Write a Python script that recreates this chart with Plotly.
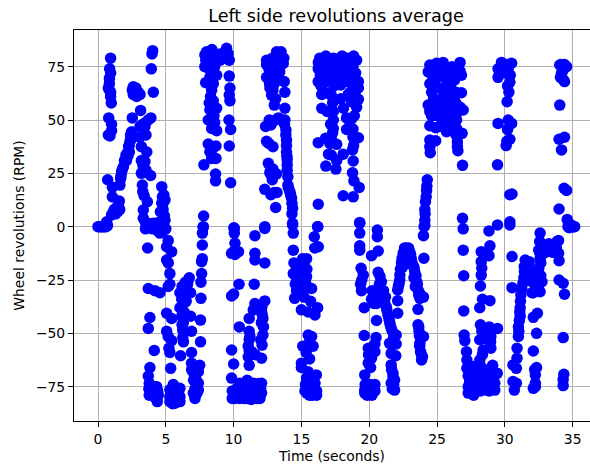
import plotly.graph_objects as go

TITLE = "Left side revolutions average"
X_LABEL = "Time (seconds)"
Y_LABEL = "Wheel revolutions (RPM)"
x_ticks = [0, 5, 10, 15, 20, 25, 30, 35]
y_ticks = [-75, -50, -25, 0, 25, 50, 75]

# (time in seconds, left wheel revolutions in RPM), burst by burst
start = [(0,0),(0.1,0),(0.2,0),(0.3,0),(0.4,0),(0.5,0),(0.6,0),(0.7,0.5)]
burst_1 = [(.93,79),(.86,74),(.93,72),(.84,69.5),(.84,67),(.76,65),(.93,63),(.84,64),(.98,58),(.93,61),(.79,51),(1.0,48),(1.0,45),(.76,43),(.88,42.5),(.71,22),(1.06,18.5),(1.06,14),(1.57,12),(1.13,7),(1.38,9),(1.0,5.5),(1.6,8),(.64,2.3),(1.5,10),(1.3,6),(1.2,8),(1.45,7)]
rise_2 = [(1.62,19.5),(1.67,22.6),(1.74,25.8),(1.87,28),(2,30.5),(2.06,33.6),(2.16,34.4),(2.31,35),(2.26,37.5),(2.36,40),(2.43,42),(2.48,44.5),(1.7,24),(1.8,27),(1.95,31),(2.1,31),(2.2,33),(2.3,38),(2.4,43),(2.45,41)]
burst_3 = [(2.6,65.6),(2.8,65),(2.97,63),(3.1,62),(2.6,62),(2.85,61),(2.73,63),(2.53,64),(2.53,51),(3.14,54.5),(3.9,51),(3.54,49),(3.1,47),(3.46,47),(3.54,43),(3.1,42),(3.2,37.5),(3.6,35),(3.2,31),(3.46,30.5),(3.2,25),(3.54,26.5),(3.88,24),(3.27,19.5),(3.3,16.4),(3.4,14.5),(3.64,11.7),(3.34,7.8),(3.34,3.9),(3.7,1.6),(4.08,1.6),(4.45,1.9),(4.94,3),(4.7,18.75),(4.86,14.8),(4.94,12.5),(4.7,11),(4.6,7),(4.8,8),(4.2,.8),(4.03,82.5),(3.98,81),(3.93,74),(4.08,63),(3.3,48),(3.7,50),(3.3,29),(3.35,27),(3.5,2),(3.9,1),(4.3,1),(4.7,2),(4.9,5),(4.75,14),(4.8,11),(4.85,5),(4.6,1)]
low_4 = [(3.83,-.3),(4.57,-3),(5.18,-6.5),(5.06,-9.4),(5.43,-11.7),(5.06,-15.6),(5.18,-17),(5.3,-22),(5.3,-27),(5.18,-28),(3.66,-10),(3.71,-29),(4.2,-30),(4.57,-31),(3.83,-42.6),(3.71,-47.7),(4.15,-58),(3.83,-66),(3.71,-70),(3.78,-73.4),(3.78,-79),(4.32,-75),(4.45,-79),(4.37,-82),(4.2,-80),(3.5,-1),(4,-1),(4.4,-2),(4.8,-2),(5,-1),(3.75,-76),(4.1,-77),(4.4,-77),(4.25,-75)]
low_5 = [(5.06,-40.6),(5.43,-43),(5.06,-49),(5.18,-51.5),(5.43,-53.4),(5.23,-57),(5.3,-59),(5.36,-66.4),(5.55,-74),(5.3,-76.5),(6.04,-75.8),(5.3,-79.7),(5.67,-81),(6.04,-82),(5.67,-82.8),(5.3,-82),(6.04,-79.7),(5.67,-78),(6.09,-60.5),(6.3,-54),(5.5,-76),(5.8,-76),(5.9,-79),(5.45,-80),(5.85,-82),(5.5,-83)]
low_6 = [(6.24,-48.4),(6.29,-45),(6.17,-42),(6.04,-38),(6.17,-34),(6.29,-31),(6.66,-25),(6.73,-24),(6.53,-28),(6.41,-33),(6.04,-31),(6.53,-30.5),(6.83,-31),(6.83,-42),(6.9,-49),(6.9,-59),(7.59,-33.6),(7.56,-43.8),(7.56,-54),(6.9,-64),(7.5,-65),(6.9,-67),(7.4,-68),(7.15,-70),(7.4,-73.4),(7.15,-76),(7.4,-76.6),(7.03,-78),(7.15,-80.5),(6.3,-36),(6.35,-40),(6.2,-46),(6.25,-52),(6.45,-26),(6.6,-27),(6.2,-28),(6.5,-35),(7,-68),(7.25,-72),(7.3,-78),(7.05,-72)]
rise_7 = [(7.64,-22),(7.59,-26),(7.64,-16.4),(7.69,-15),(7.69,-8.6),(7.7,-3),(7.76,-.3),(7.79,5),(7.76,0)]
high_8 = [(7.88,80.5),(8.25,81),(8.6,81),(9,81),(9.48,83.6),(9.6,81),(9.68,78),(8,82),(7.88,75),(8.13,77),(8.5,77),(9,78),(8.38,73.4),(8.75,71),(9.68,70.6),(7.94,67.5),(8.5,67),(8.38,64),(9.73,65),(9.68,61.7),(9.73,59),(8.2,58),(8.5,59),(8.75,55.5),(8.25,54.7),(8.13,50),(8.6,48.75),(9.66,50),(9.78,45.6),(8.38,46),(8.75,45),(8.13,38.75),(8.7,37.8),(9.68,37.8),(8.25,35),(8.7,32),(8.38,32),(7.81,29),(8.67,24.7),(8.67,21.5),(9.78,20.6),(8.1,79),(8.4,79),(8.8,79),(9.2,80),(9.4,79),(8.2,74),(8.6,75),(8.25,70),(8.3,61),(8.45,70),(8.55,52),(8.4,36),(9.3,81),(7.95,78),(8.4,83)]
low_10 = [(10.02,-.5),(10.05,-.8),(10.05,-3),(10.1,-7.8),(10,-11.7),(10.36,-11.7),(10.1,-13),(9.85,-12.5),(10.4,-27),(10,-31.6),(9.85,-32.5),(9.85,-57.8),(10,-64.4),(9.85,-71),(9.9,-77),(9.9,-80.5),(10.46,-73.4),(10.46,-76.6),(10.46,-80.5),(11,-72),(11,-76.6),(11,-80.5),(11.45,-73.4),(11.45,-77.3),(11.7,-80.5),(12.06,-73.4),(12.06,-78),(11.94,-80.5),(10.1,-80.5),(10.8,-80.5),(11.3,-81),(10.7,-74),(10.2,-76),(10.7,-78),(11.2,-74),(11.2,-78),(11.7,-74),(11.7,-77),(10.25,-79),(10.6,-80),(11.5,-80),(12,-76),(10.85,-75),(11.85,-73.5),(11.1,-74)]
low_11 = [(10.42,-47),(11.15,-43),(11.15,-49),(11.2,-51.5),(11.08,-56),(11.33,-58.6),(11.08,-61),(11.15,-65),(12.06,-61.7),(12.1,-55.5),(12.16,-50.8),(12.2,-47),(12.16,-43),(12.06,-39),(12.3,-34.8),(11.57,-36),(11.45,-39),(11.52,-27),(11.57,-12.5),(11.57,-15.6),(11.57,-4.2),(12.3,-.8),(12.3,-17),(12,-53),(12.05,-45),(12.1,-41),(11.15,-58),(11.15,-53),(11.6,-60),(11.7,-37),(12.1,-37)]
high_12 = [(12.3,0),(13.1,9),(12.3,17.5),(13,16),(13.2,16),(12.68,25),(12.56,29.7),(13.17,24.7),(12.43,40),(12.9,37.5),(12.36,47),(12.75,47.7),(12.63,50),(13.3,51),(13.78,55.5),(13,57),(12.8,61.7),(13.1,60),(12.68,65),(13.78,63),(13.73,68),(12.43,70),(12.9,69),(12.43,76),(12.43,78),(13.17,82),(13.5,82),(13.3,76.5),(13.66,76.5),(12.9,73.4),(13.4,72.6),(12.6,74),(12.7,71),(13,73),(13.2,70),(13,67),(12.9,64),(13.3,79),(13.5,78),(12.65,67),(13,79),(13.4,75),(12.75,75),(12.85,79),(13.45,80),(13.7,79),(12.7,26),(12.6,39),(12.75,15),(13.1,50),(13.6,50),(12.9,27),(12.85,22)]
fall_13 = [(13.78,50),(13.86,45.3),(13.9,40.6),(13.9,35),(13.95,31.5),(13.95,26.5),(14,23.4),(14,19.5),(14.15,16.4),(14.27,13.3),(14.35,8.6),(14.35,1.6),(13.75,48),(13.85,43),(13.9,38),(13.93,33),(13.95,29),(14.05,18),(14.2,15),(14.3,11),(14.3,6)]
low_14 = [(14.35,.8),(14.4,-3),(14.4,-11),(14.45,-17),(14.4,-22),(14.64,-24),(15.1,-15),(15.38,-15),(15.98,-10),(16.24,-9.4),(15.95,-4.7),(16.2,0),(14.64,-30),(14.5,-33.6),(14.86,-17),(15.1,-20),(14.86,-23.4),(15.38,-23.4),(14.98,-26.5),(15.1,-30),(15.75,-29),(15.68,-35),(15,-39),(15.5,-40),(16,-41.4),(16.2,-38),(15.5,-50.8),(15.75,-51.5),(15.1,-56),(15.86,-56),(15.6,-62),(15,-64),(15,-66),(16.1,-69.5),(15.5,-68),(15.38,-71),(16,-73.4),(15.5,-75),(15.26,-77),(16.12,-77),(15.6,-79),(16.12,-79),(15.5,-73.4),(14.65,-20),(14.7,-28),(14.8,-31),(15.2,-18),(15.3,-26),(15,-22),(15.2,-33),(14.55,-27),(14.9,-29),(15.25,-16),(15.4,-20),(15.7,-76),(15.9,-77),(15.4,-78),(15.8,-79),(15.7,-72),(15.85,-71),(15.3,-74),(15.6,-54),(15.35,-59)]
high_16 = [(16.24,10.5),(16.2,0),(16.8,28.4),(17,34),(16.24,39.4),(16.78,41.4),(17.1,39),(16.5,55.5),(16.9,54),(16.5,62),(17,62.5),(16.24,68),(17,68),(16.24,74),(16.35,79),(17,79),(16.6,73.4),(16.4,71),(16.6,77),(16.8,76),(16.45,66),(16.7,68),(16.85,72),(16.25,77),(16.7,63),(16.8,80)]
high_17 = [(17.35,79),(18.2,79),(19.07,78),(17.35,75),(18.1,75),(18.8,75),(17.47,72),(18.33,72),(19.2,68),(17.9,66.4),(18.8,66.4),(19.2,65),(18.8,63.3),(17.2,61.7),(17.9,60),(19.2,59.7),(19.07,56),(18.7,58.6),(18.1,55.5),(17.35,54),(18.33,51),(18.7,50.5),(17.35,50),(17.35,46),(18.33,45.6),(18.8,45.8),(19.2,41.7),(18.8,42),(17.2,41.4),(17.6,38.6),(18.77,36),(18.08,34),(17.2,33.6),(17.6,31),(17.54,27),(18.82,30.8),(18.77,25.3),(18.87,21.5),(19.26,18.4),(18.08,14.5),(18.82,14),(19.3,2),(18.7,72),(18.6,68.75),(17.6,78),(17.8,79),(18,80),(18.4,79),(18.6,78),(18.85,80),(17.7,75),(17.9,73),(18.15,71),(18.5,75),(19,72),(17.2,76),(17.2,70),(17.65,70),(18.4,68),(18.95,68),(17.4,66),(18.6,63),(18.95,62),(17.3,58),(18.9,52),(17.9,77),(18.45,62),(19.05,60),(17.15,48),(17.3,44),(18.55,47),(18.85,38)]
low_19 = [(19.3,1.6),(19.3,-3),(19.3,-9),(19.3,-11),(20.17,-13.6),(20.66,-11.4),(20.6,-1.6),(20.6,-4.7),(19.4,-19.5),(19.56,-22.7),(19.36,-27),(19.43,-30),(19.63,-38),(19.63,-51),(19.93,-57),(20.42,-58.6),(20.17,-61.7),(19.93,-64),(19.67,-69.5),(19.67,-76.6),(19.67,-78),(20.05,-74),(20.42,-74),(20.42,-77),(20.05,-78),(20.22,-30),(20.17,-34),(20.54,-36),(20.54,-44),(20.5,-52),(20.42,-55),(19.85,-75),(19.85,-79),(20.2,-79),(20.25,-76),(19.7,-74),(20.3,-33),(20.35,-36),(19.45,-25),(19.95,-60),(20.1,-66),(20.1,-57)]
fall_20 = [(20.66,-21.4),(20.8,-23.4),(20.9,-25.8),(20.9,-29.7),(21,-33),(21.13,-35),(21.25,-37.5),(21.38,-41.4),(21.5,-44.5),(21.62,-47.6),(21.99,-50.8),(21.99,-55),(21.5,-54.7),(21.62,-59.4),(21.96,-60.5),(21.62,-64.8),(21.75,-68.75),(21.87,-71.9),(21.62,-73.4),(21.87,-76.6),(21.75,-70.3),(22.1,-40.6),(20.75,-27),(20.85,-32),(21.05,-30),(21.2,-33),(21.3,-39),(21.45,-43),(21.55,-46),(21.7,-49),(21.8,-52),(21.7,-55),(21.65,-67),(21.7,-76),(21.8,-74)]
peak_22 = [(22.1,-29.7),(22.2,-26.6),(22.26,-22.7),(22.38,-17),(22.5,-12.5),(22.75,-10),(22.98,-11.7),(23.1,-15),(23.2,-18),(23.35,-21),(23.5,-25.8),(23.6,-29.7),(23.73,-33.6),(24,-33),(23.6,-38.75),(22.1,-34.7),(23.6,-46),(23.67,-49),(24,-51.5),(23.73,-54.7),(23.78,-58.6),(23.93,-61),(23.86,-62.5),(22.62,-11.7),(22.86,-13),(24.03,-14.8),(24,-4.2),(24.1,.8),(22.15,-28),(22.3,-20),(22.42,-15),(22.6,-10),(22.9,-10),(23.05,-13),(23.15,-17),(23.3,-19),(23.45,-23),(23.55,-27),(23.65,-32),(23.7,-31),(23.65,-47),(23.7,-51),(23.72,-56),(23.85,-60),(22.25,-25),(22.45,-19),(23.3,-24),(23.4,-28)]
rise_24 = [(24.1,8),(24.15,11.7),(24.23,17),(24.28,22),(24.1,3),(24.05,0),(24.12,6),(24.2,14),(24.25,19)]
high_24 = [(24.47,75.8),(24.35,72.6),(24.96,76.6),(25.45,77),(26.7,77),(26.1,75),(26.8,71),(24.47,67),(25.2,72),(25.7,68.75),(26.3,68.75),(24.85,65.6),(26.8,62.8),(25.95,63.3),(25.45,61),(24.35,57),(24.47,54),(24.96,58.6),(25.57,57.8),(26.4,57.8),(26.93,54.7),(25.1,54),(25.8,54.7),(26.44,53),(25.33,50.8),(25.95,50.8),(26.44,50),(24.47,47.3),(24.9,46.4),(25.7,44.5),(26.44,46),(26.85,43.75),(24.47,40.6),(24.9,40.3),(24.47,37.5),(24.5,34.7),(26.5,39.8),(26.5,37.5),(26.54,35.6),(26.88,28.75),(26.88,3.9),(26.93,-1),(24.8,74),(25.2,76),(25.6,75),(25.9,73),(26.4,74),(26.7,73),(24.7,70),(25,70),(25.5,71),(25.9,69),(26.5,71),(24.6,63),(25.2,65),(25.6,64),(26,66),(26.4,63),(24.75,60),(25.3,59),(25.9,59),(26.3,61),(24.7,56),(25.4,56),(26.1,56),(26.7,56),(25,52),(25.6,52),(26.2,52),(25.2,47),(25.9,47),(26.4,43),(25.5,49),(24.6,52)]
low_27 = [(26.93,-11),(26.97,-23),(26.97,-39.5),(27,-50.8),(27.05,-53.4),(27.17,-58.6),(27.2,-62.5),(27.2,-66.4),(27.3,-70),(27.3,-75),(27.66,-65.6),(27.54,-72),(27.9,-76.6),(27.9,-72),(28.15,-62.5),(28.4,-57.8),(28.15,-53),(28.2,-46),(28.6,-49),(28.97,-51.5),(28.97,-57),(29.46,-47.7),(29.1,-65),(29.44,-68.75),(28.65,-68.75),(29,-72),(28.65,-76.6),(29.26,-76.6),(29.26,-73.4),(28.4,-73.4),(28.15,-38),(28.35,-34),(28.9,-34.7),(28.2,-27.8),(28.26,-22.7),(28.3,-19.5),(28.26,-16.4),(28.26,-11.7),(28.83,-13.6),(28.9,-9),(28.83,-2),(29.46,.8),(27.4,-73),(27.5,-77),(27.7,-70),(27.7,-75),(28.1,-69),(28.2,-74),(28.4,-70),(28.2,-77),(28.5,-75),(28.85,-74),(28.85,-77),(29.1,-71),(28.9,-68),(27.3,-78),(27.7,-79),(28,-67),(28.3,-66),(28.35,-60),(28.75,-53),(28.85,-47),(28.95,-54),(28.3,-49)]
high_29 = [(30.37,15),(30.53,15.3),(30.37,2.3),(29.46,29),(30.1,38),(30.37,41),(30.2,45.6),(29.5,48.4),(30.25,50),(30.5,48.4),(30.17,58.6),(30.3,63),(30.37,67.7),(29.5,70),(29.5,74),(29.75,77),(30.5,76.6),(30.12,72),(29.9,73.4),(29.7,74),(30.1,76),(30.25,74),(30.4,71),(30.2,66),(30.15,40)]
low_30 = [(30.37,.8),(30.53,-14),(30.53,-28.6),(30.6,-64.8),(30.85,-66.4),(30.9,-61.7),(30.9,-57),(30.6,-72.6),(30.85,-73.4),(30.7,-76.6)]
rise_31 = [(31,-51.5),(31,-47),(31.13,-42),(31.13,-38),(31.18,-32),(31.33,-26.5),(31.5,-22.7),(31.43,-18.75),(31.5,-15.6),(31.8,-16.4),(31.78,-19.5),(31.85,-22.7),(32,-25.8),(32.1,-31),(32.5,-25.8),(32.74,-25.8),(32.6,-30.5),(32.65,-17),(32.5,-19.5),(32.1,-42.5),(32.4,-40.6),(32.34,-50),(32.1,-58.3),(32.34,-66),(32.25,-69.5),(32.25,-73.4),(32.1,-75.8),(31.03,-49),(31.07,-44),(31.1,-40),(31.15,-35),(31.25,-29),(31.4,-24),(31.45,-21),(31.65,-17),(31.7,-21),(31.9,-25),(32,-31),(32.3,-28),(32.2,-24),(32.5,-30),(32.65,-23),(31.95,-20),(32.25,-75),(32.2,-67)]
level_32 = [(32.6,-3),(32.57,-7),(32.5,-11),(33,-8.6),(33.35,-9.4),(33.96,-6.5),(33.8,-10),(33.96,-12.5),(33,-12),(33.5,-12),(32.6,-12.5),(34,-16),(34,-25),(34.3,-26.5),(34.4,-31.7),(34.3,-52),(34.35,-69.2),(34.3,-71.6),(34.3,-74.5),(32.8,-9),(33.2,-11),(33.7,-8),(33.85,-7),(32.75,-13),(33.25,-8),(33.7,-12),(32.6,-15)]
high_34 = [(34.05,75.8),(34.55,75),(34.18,72),(34.4,68),(34.3,73.4),(34.05,57),(34.4,41.9),(34,41),(34.18,36),(34.37,18),(34.55,17),(34,8.3),(34.6,3.4),(34.66,0),(35.15,0),(34.9,.8),(34.77,.5),(34.15,76),(34.4,76),(34.1,70),(34.3,69),(34.7,1.5),(34.85,0),(35,0),(35.05,0),(34.75,-.5)]

bursts = [start, burst_1, rise_2, burst_3, low_4, low_5, low_6, rise_7, high_8, low_10, low_11,
          high_12, fall_13, low_14, high_16, high_17, low_19, fall_20, peak_22, rise_24, high_24,
          low_27, high_29, low_30, rise_31, level_32, high_34]
time_s = [p[0] for b in bursts for p in b]
rpm = [p[1] for b in bursts for p in b]

FONT = "DejaVu Sans"
fig = go.Figure(go.Scatter(x=time_s, y=rpm, mode="markers",
                           marker=dict(color="#0000ff", size=11.5, line=dict(width=0)),
                           cliponaxis=True))
axis_common = dict(showgrid=True, gridcolor="#b0b0b0", gridwidth=1.2, zeroline=False,
                   showline=True, linecolor="black", linewidth=1,
                   ticks="outside", ticklen=5, tickwidth=1, tickcolor="black",
                   tickfont=dict(family=FONT, size=13.9, color="black"))
fig.update_layout(
    width=590, height=471, showlegend=False,
    plot_bgcolor="white", paper_bgcolor="white",
    margin=dict(l=74, r=0, t=30, b=50),
    font=dict(family=FONT, color="black"),
    title=dict(text=TITLE, x=336/590, xanchor="center", y=1-16/471, yanchor="middle",
               font=dict(family=FONT, size=17.6, color="black")),
    xaxis=dict(axis_common, range=[-1.77, 36.28], tickvals=x_ticks, mirror=True,
               title=dict(text=X_LABEL, font=dict(family=FONT, size=13.9, color="black"), standoff=5)),
    yaxis=dict(axis_common, range=[-91.1, 92.2], tickvals=y_ticks,
               title=dict(text=Y_LABEL, font=dict(family=FONT, size=13.9, color="black"), standoff=8)),
)
fig.write_html("out.html", config=dict(displayModeBar=False),
               post_script="document.body.style.margin='0';")
